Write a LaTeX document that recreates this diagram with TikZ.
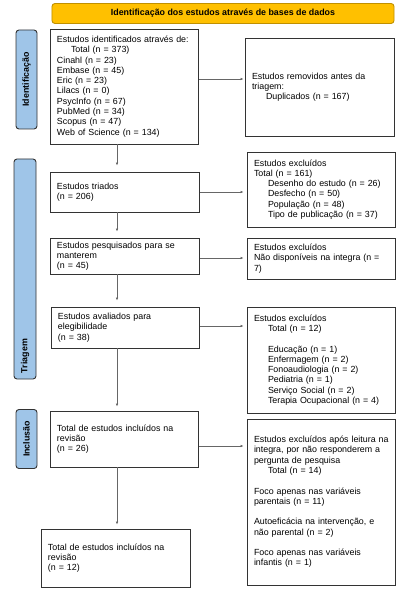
\documentclass[tikz,border=0pt]{standalone}
\usepackage{fontspec}
\setmainfont{Liberation Sans}
\usetikzlibrary{arrows.meta}
\definecolor{boxc}{HTML}{333333}
\definecolor{arrc}{HTML}{666666}
\definecolor{bannerfill}{HTML}{FFC000}
\definecolor{bannerline}{HTML}{C09000}
\definecolor{sidefill}{HTML}{9FC5E8}
\newcommand{\ind}{\hspace*{14bp}}
\begin{document}
\begin{tikzpicture}[x=1bp,y=-1bp,
  txt/.style={font=\fontsize{8.9}{10.3}\selectfont},
  box/.style={txt, draw=boxc, line width=0.9bp, rectangle, inner xsep=7bp, inner ysep=0pt, align=left},
  side/.style={draw=boxc, line width=0.9bp, fill=sidefill, rounded corners=3bp, rotate=90, inner sep=0pt,
    font=\fontsize{8.9}{10.3}\selectfont\bfseries},
  sidetext/.style={rotate=90, inner sep=0pt, font=\fontsize{8.9}{10.3}\selectfont\bfseries},
  arr/.style={draw=arrc, line width=0.8bp, -{Latex[length=3bp,width=2.6bp]}, shorten >=1bp}
]
\useasboundingbox[fill=white] (0,0) rectangle (406,589);

% banner
\node[draw=bannerline, line width=0.9bp, fill=bannerfill, rounded corners=3bp,
  minimum width=342bp, minimum height=20bp, inner sep=0pt,
  font=\fontsize{8.9}{10.3}\selectfont\bfseries] (banner) at (223,13.5)
  {Identificação dos estudos através de bases de dados};

% side labels
\node[side, minimum width=99bp, minimum height=21bp] (sid) at (26.5,79.5) {Identificação};
\node[side, minimum width=220bp, minimum height=22bp] (stri) at (25,269) {};
\node[sidetext] (stritext) at (25,356) {Triagem};
\node[side, minimum width=59bp, minimum height=21bp] (sinc) at (26.5,439) {Inclusão};

% left column
\node[box, minimum width=148bp, minimum height=115bp, text width=134bp] (b1) at (124,86.5)
  {Estudos identificados através de:\\
   \ind Total (n = 373)\\
   Cinahl (n = 23)\\
   Embase (n = 45)\\
   Eric (n = 23)\\
   Lilacs (n = 0)\\
   PsycInfo (n = 67)\\
   PubMed (n = 34)\\
   Scopus (n = 47)\\
   Web of Science (n = 134)};
\node[box, minimum width=149bp, minimum height=40bp, text width=135bp] (tri) at (124.5,192)
  {Estudos triados\\(n = 206)};
\node[box, minimum width=149bp, minimum height=36bp, text width=135bp] (pes) at (124.5,256)
  {Estudos pesquisados para se\\manterem\\(n = 45)};
\node[box, minimum width=148bp, minimum height=41bp, text width=134bp] (ava) at (125,327.5)
  {Estudos avaliados para\\elegibilidade\\(n = 38)};
\node[box, minimum width=148bp, minimum height=56bp, text width=134bp] (inc) at (124,439)
  {Total de estudos incluídos na\\revisão\\(n = 26)};
\node[box, minimum width=149bp, minimum height=58bp, text width=135bp] (fin) at (115.5,558)
  {Total de estudos incluídos na\\revisão\\(n = 12)};

% right column
\node[box, minimum width=149bp, minimum height=98bp, text width=135bp] (rem) at (319.5,87)
  {Estudos removidos antes da\\triagem:\\\ind Duplicados (n = 167)};
\node[box, minimum width=148bp, minimum height=75bp, text width=134bp] (ex1) at (321,189.5)
  {Estudos excluídos\\Total (n = 161)\\
   \ind Desenho do estudo (n = 26)\\
   \ind Desfecho (n = 50)\\
   \ind População (n = 48)\\
   \ind Tipo de publicação (n = 37)};
\node[box, minimum width=148bp, minimum height=41bp, text width=134bp] (ex2) at (321,258.5)
  {Estudos excluídos\\\mbox{Não disponíveis na integra (n =}\\7)};
\node[box, minimum width=148bp, minimum height=106bp, text width=134bp] (ex3) at (321,360)
  {Estudos excluídos\\
   \ind Total (n = 12)\\[10.3bp]
   \ind Educação (n = 1)\\
   \ind Enfermagem (n = 2)\\
   \ind Fonoaudiologia (n = 2)\\
   \ind Pediatria (n = 1)\\
   \ind Serviço Social (n = 2)\\
   \ind Terapia Ocupacional (n = 4)};
\node[box, minimum width=148bp, minimum height=166bp, text width=134bp] (ex4) at (321,502)
  {\mbox{Estudos excluídos após leitura na}\\
   \mbox{integra, por não responderem a}\\
   pergunta de pesquisa\\
   \ind Total (n = 14)\\[10.3bp]
   Foco apenas nas variáveis\\parentais (n = 11)\\[10.3bp]
   \mbox{Autoeficácia na intervenção, e}\\não parental (n = 2)\\[10.3bp]
   Foco apenas nas variáveis\\infantis (n = 1)};

% vertical connectors
\coordinate (vx) at (117,0);
\draw[arr, shorten >=6bp] (b1.south -| vx) -- (tri.north -| vx);
\draw[arr, shorten >=6bp] (tri.south -| vx) -- (pes.north -| vx);
\draw[arr, shorten >=6bp] (pes.south -| vx) -- (ava.north -| vx);
\draw[arr, shorten >=4bp] (ava.south -| vx) -- (inc.north -| vx);
\draw[arr, shorten >=4bp] (inc.south -| vx) -- (fin.north -| vx);

% horizontal connectors
\coordinate (h1) at (0,79);
\coordinate (h2) at (0,192);
\coordinate (h3) at (0,258);
\coordinate (h4) at (0,326);
\coordinate (h5) at (0,446);
\draw[arr, shorten <=1bp] (b1.east |- h1) -- (rem.west |- h1);
\draw[arr, shorten <=1bp, shorten >=3bp] (tri.east |- h2) -- (ex1.west |- h2);
\draw[arr, shorten <=1bp, shorten >=3bp] (pes.east |- h3) -- (ex2.west |- h3);
\draw[arr, shorten <=1bp, shorten >=3bp] (ava.east |- h4) -- (ex3.west |- h4);
\draw[arr, shorten <=1bp, shorten >=3bp] (inc.east |- h5) -- (ex4.west |- h5);
\end{tikzpicture}
\end{document}
